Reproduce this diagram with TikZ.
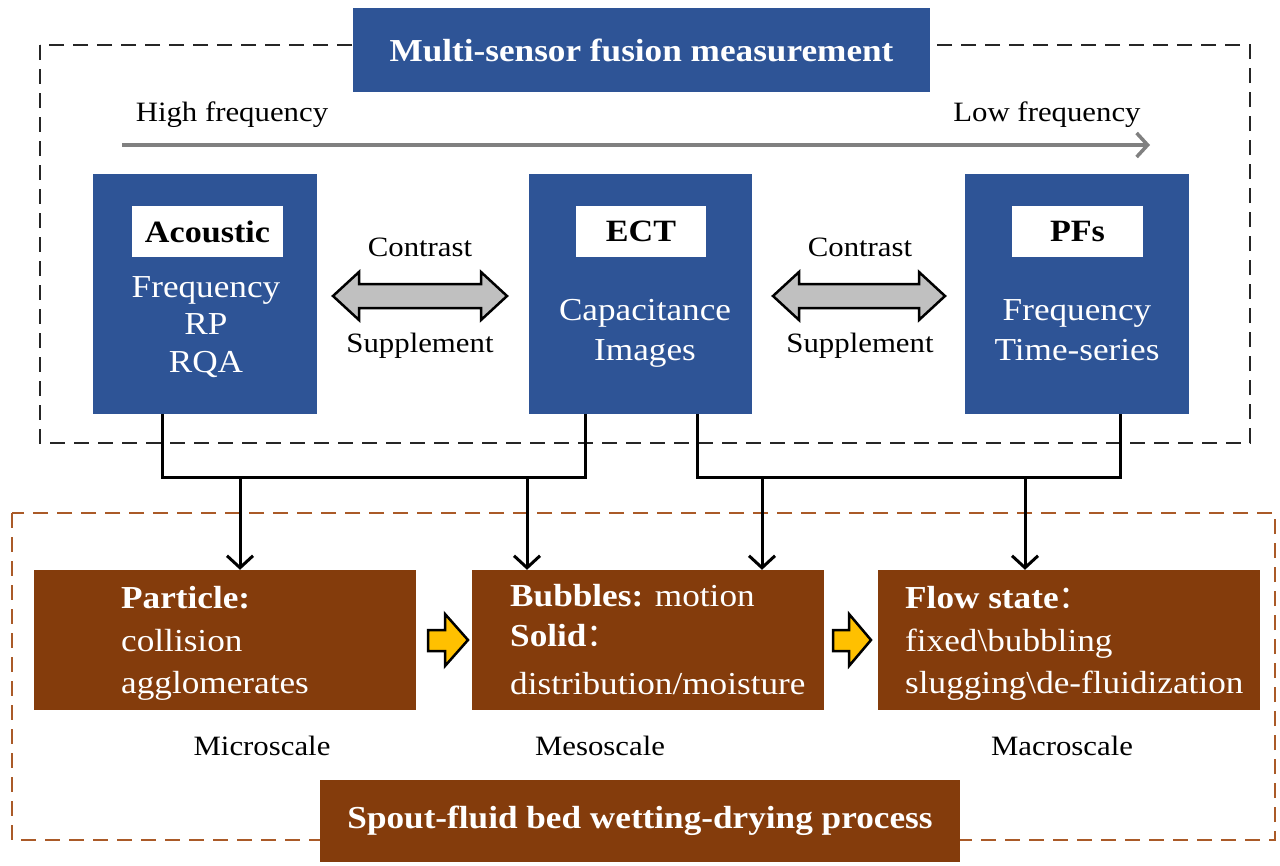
\documentclass[tikz,border=0pt]{standalone}
\usepackage{fontspec}
\setmainfont{Liberation Serif}[FakeStretch=1.1]
\newfontfamily\cjk{Noto Sans CJK SC}
\usetikzlibrary{arrows.meta}
\definecolor{bblue}{RGB}{46,84,150}
\definecolor{bbrown}{RGB}{132,60,12}
\definecolor{ddash}{RGB}{170,90,40}
\definecolor{yel}{RGB}{255,192,0}
\definecolor{arrgray}{RGB}{128,128,128}
\definecolor{dblgray}{RGB}{192,192,192}
\tikzset{
  bluebox/.style={fill=bblue, inner sep=0pt, minimum width=224pt, minimum height=240pt},
  tagbox/.style={fill=white, inner sep=0pt, minimum height=51pt, font=\fontsize{31}{34}\selectfont\bfseries},
  btxt/.style={text=white, inner sep=0pt, anchor=base, font=\fontsize{32}{34}\selectfont},
  lbl/.style={text=black, inner sep=0pt, anchor=base, font=\fontsize{28}{30}\selectfont},
  brownbox/.style={fill=bbrown, inner sep=0pt, minimum height=140pt},
  brtxt/.style={text=white, inner sep=0pt, anchor=base west, font=\fontsize{32}{34}\selectfont},
  titlebox/.style={inner sep=0pt, text=white, font=\fontsize{32}{34}\selectfont\bfseries},
  conn/.style={line width=3pt, black},
  arr/.style={line width=3pt, black, -{Straight Barb[length=12pt,width=26pt,line width=3pt]}},
  dashbox/.style={line width=2.5pt, dash pattern=on 15pt off 9pt},
  dblarrow/.style={draw=black, line width=2.5pt, fill=dblgray, line join=miter},
  yelarrow/.style={draw=black, line width=2.5pt, fill=yel, line join=miter}
}
\begin{document}
\begin{tikzpicture}[x=1pt,y=-1pt]
\useasboundingbox[fill=white] (0,0) rectangle (1280,865);

% dashed frames
\draw[dashbox, black!85] (40,45) rectangle (1250,443);
\draw[dashbox, ddash] (12,513) rectangle (1275,840);

% title
\node[titlebox, fill=bblue, minimum width=577pt, minimum height=84pt] (title) at (641.5,50) {Multi-sensor fusion measurement};

% frequency arrow
\node[lbl] (hf) at (232,121) {High frequency};
\node[lbl] (lf) at (1047,121) {Low frequency};
\coordinate (fa) at (122,145);
\coordinate (fb) at (1150,145);
\draw[line width=3.5pt, arrgray, -{Straight Barb[length=11pt,width=24pt,line width=3.5pt]}] (fa) -- (fb);

% blue boxes
\node[bluebox] (A) at (205,294) {};
\node[bluebox, minimum width=223pt] (E) at (640.5,294) {};
\node[bluebox] (P) at (1077,294) {};

\node[tagbox, minimum width=151pt] (At) at (207.5,231.5) {Acoustic};
\node[tagbox, minimum width=130pt] (Et) at (641,231.5) {ECT};
\node[tagbox, minimum width=131pt] (Pt) at (1077.5,231.5) {PFs};

\node[btxt] (A1) at (206,297) {Frequency};
\node[btxt] (A2) at (206,334) {RP};
\node[btxt] (A3) at (206,372) {RQA};
\node[btxt] (E1) at (645,320) {Capacitance};
\node[btxt] (E2) at (645,360) {Images};
\node[btxt] (P1) at (1077,320) {Frequency};
\node[btxt] (P2) at (1077,360) {Time-series};

% double arrows
\node[lbl] (c1) at (420,256) {Contrast};
\node[lbl] (s1) at (420,352) {Supplement};
\node[lbl] (c2) at (860,256) {Contrast};
\node[lbl] (s2) at (860,352) {Supplement};
\draw[dblarrow] (333,296) -- (359,272) -- (359,284) -- (481,284) -- (481,272) -- (507,296)
  -- (481,320) -- (481,308) -- (359,308) -- (359,320) -- cycle;
\draw[dblarrow] (773,296) -- (799,272) -- (799,284) -- (919,284) -- (919,272) -- (945,296)
  -- (919,320) -- (919,308) -- (799,308) -- (799,320) -- cycle;

% brown boxes
\node[brownbox, minimum width=382pt] (M1) at (225,640) {};
\node[brownbox, minimum width=352pt] (M2) at (648,640) {};
\node[brownbox, minimum width=382pt] (M3) at (1069,640) {};

\node[brtxt] (m11) at (121,608) {\bfseries Particle:};
\node[brtxt] (m12) at (121,651) {collision};
\node[brtxt] (m13) at (121,693) {agglomerates};
\node[brtxt] (m21) at (510,606) {\textbf{Bubbles:} motion};
\node[brtxt] (m22) at (510,646) {\textbf{Solid}{\cjk ：}};
\node[brtxt] (m23) at (510,694) {distribution/moisture};
\node[brtxt] (m31) at (905,608) {\textbf{Flow state}{\cjk ：}};
\node[brtxt] (m32) at (905,651) {fixed\textbackslash bubbling};
\node[brtxt] (m33) at (905,693) {slugging\textbackslash de-fluidization};

\node[lbl] (s1l) at (262,755) {Microscale};
\node[lbl] (s2l) at (600,755) {Mesoscale};
\node[lbl] (s3l) at (1062,755) {Macroscale};

% yellow arrows
\draw[yelarrow] (428,630) -- (445,630) -- (445,614) -- (468,640) -- (445,666) -- (445,651) -- (428,651) -- cycle;
\draw[yelarrow] (833,630) -- (849,630) -- (849,614) -- (871,640) -- (849,666) -- (849,651) -- (833,651) -- cycle;

% bottom title
\node[titlebox, fill=bbrown, minimum width=640pt, minimum height=82pt] (bt) at (640,821) {Spout-fluid bed wetting-drying process};

% connectors
\coordinate (jL1) at (162,477);
\coordinate (jL2) at (585,477);
\coordinate (jR1) at (697,477);
\coordinate (jR2) at (1120,477);
\draw[conn] (A.south -| jL1) -- (jL1) -- (jL2) -- (E.south -| jL2);
\draw[conn] (E.south -| jR1) -- (jR1) -- (jR2) -- (P.south -| jR2);
\coordinate (d1) at (240,477);
\coordinate (d2) at (527,477);
\coordinate (d3) at (762,477);
\coordinate (d4) at (1025,477);
\draw[arr] (d1) -- (M1.north -| d1);
\draw[arr] (d2) -- (M2.north -| d2);
\draw[arr] (d3) -- (M2.north -| d3);
\draw[arr] (d4) -- (M3.north -| d4);
\end{tikzpicture}
\end{document}
